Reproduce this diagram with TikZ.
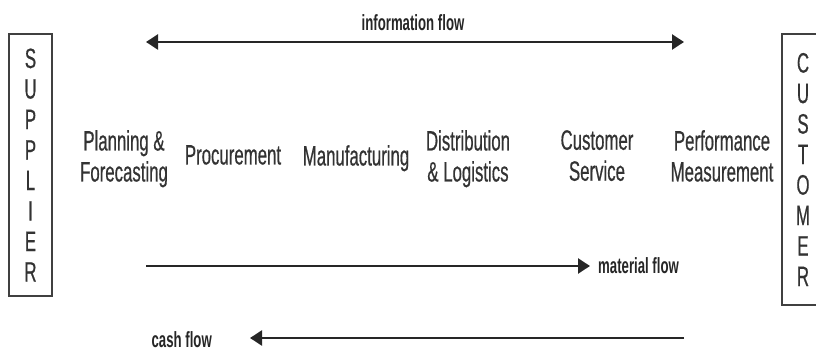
\documentclass[tikz,border=0pt]{standalone}
\usepackage{fontspec}
\setmainfont[FakeStretch=0.6, UprightFeatures={FakeBold=0.5}]{Liberation Sans}
\usetikzlibrary{arrows.meta}

\tikzset{
  stage/.style={align=center, anchor=north, inner sep=0pt, text=black!80,
    font=\fontsize{28}{31}\selectfont},
  party/.style={draw=black!75, line width=1.6pt, align=center, inner sep=0pt,
    text=black!80, font=\fontsize{28}{30.5}\selectfont},
  flowlabel/.style={inner sep=0pt, text=black!85, font=\bfseries\fontsize{22}{24}\selectfont},
  flow/.style={draw=black!85, line width=2.4pt},
  tip/.style={-{Triangle[length=12pt,width=15pt]}},
}

\begin{document}
\begin{tikzpicture}[x=1pt, y=-1pt]
  \useasboundingbox (0,0) rectangle (816,352);
  \clip (0,0) rectangle (816,352);

  % the two ends of the chain
  \node[party, minimum width=43pt, minimum height=262pt] (supplier) at (30.5,165)
    {S\\U\\P\\P\\L\\I\\E\\R};
  \node[party, minimum width=42pt, minimum height=271pt] (customer) at (803,169.5)
    {C\\U\\S\\T\\O\\M\\E\\R};

  % stages in between
  \foreach \name/\x/\y/\txt in {plan/124/130/{Planning \&\\Forecasting},
      proc/233/145/{Procurement}, manu/356/145/{Manufacturing},
      dist/468/130/{Distribution\\\& Logistics}, serv/597/130/{Customer\\Service},
      perf/722/130/{Performance\\Measurement}} {
    \node[stage] (\name) at (\x,\y) {\txt};
  }

  % flows
  \coordinate (infoL) at (146,42);
  \coordinate (infoR) at (684,42);
  \coordinate (matL) at (146,266);
  \coordinate (matR) at (590,266);
  \coordinate (cashR) at (684,338);
  \coordinate (cashL) at (250,338);

  \draw[flow, {Triangle[length=12pt,width=15pt]}-{Triangle[length=12pt,width=15pt]}] (infoL) -- (infoR);
  \draw[flow, tip] (matL) -- (matR);
  \draw[flow, tip] (cashR) -- (cashL);

  \node[flowlabel] (infolabel) at (413,23) {information flow};
  \node[flowlabel, anchor=west] (matlabel) at (598,266) {material flow};
  \node[flowlabel, anchor=east] (cashlabel) at (212,340) {cash flow};
\end{tikzpicture}
\end{document}
